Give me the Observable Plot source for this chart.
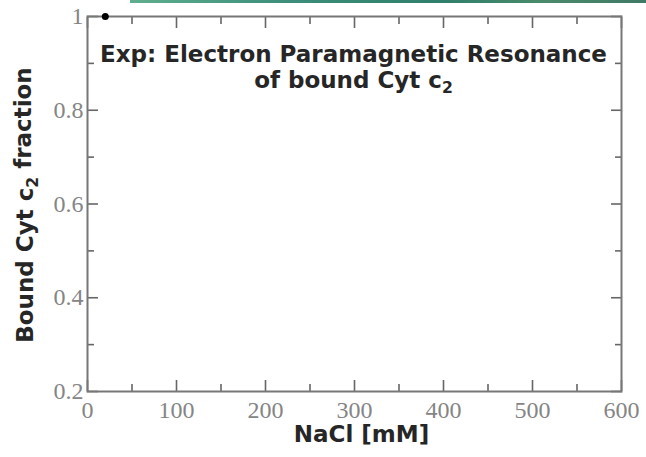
<!DOCTYPE html>
<html>
<head>
<meta charset="utf-8">
<script src="https://cdn.jsdelivr.net/npm/d3@7"></script>
<script src="https://cdn.jsdelivr.net/npm/@observablehq/plot@0.6"></script>
<style>
  html, body { margin: 0; padding: 0; background: #fff; }
  #wrap { position: relative; width: 646px; height: 457px; }
  #stripe { position: absolute; left: 130px; top: 0; width: 516px; height: 3px;
    background: linear-gradient(90deg, #5fae8e, #3c8f7c 30%, #2f7f6c 60%, #4a8a6a 80%, #3f7a66); }
</style>
</head>
<body>
<div id="wrap"></div>
<script>
// data
const naclMM = [20];
const boundFraction = [1];
const xMajorTicks = [0, 100, 200, 300, 400, 500, 600];
const xMinorTicks = [50, 150, 250, 350, 450, 550];
const yMajorTicks = [0.2, 0.4, 0.6, 0.8, 1];
const yMinorTicks = [0.3, 0.5, 0.7, 0.9];
const titleLines = ["Exp: Electron Paramagnetic Resonance", "of bound Cyt c\u2082"];
const xLabel = "NaCl [mM]";
const yLabel = "Bound Cyt c\u2082 fraction";

const points = naclMM.map((x, i) => ({x, y: boundFraction[i]}));
const fmtY = d => String(+d.toFixed(1));

const sans = "DejaVu Sans";
const serif = "Liberation Serif";
const tickColor = "#666";
const labelGray = "#858585";

const tickOpts = {tickFormat: () => "", label: null, stroke: tickColor, strokeWidth: 1.6};

const chart = Plot.plot({
  width: 646,
  height: 457,
  marginLeft: 87,
  marginRight: 25,
  marginTop: 16,
  marginBottom: 66,
  style: {background: "#fff", overflow: "visible"},
  x: {domain: [0, 600]},
  y: {domain: [0.2, 1]},
  marks: [
    // inward ticks, all four sides
    Plot.axisX(xMajorTicks, {anchor: "bottom", tickSize: -11, ...tickOpts}),
    Plot.axisX(xMinorTicks, {anchor: "bottom", tickSize: -7, ...tickOpts}),
    Plot.axisX(xMajorTicks, {anchor: "top", tickSize: -11, ...tickOpts}),
    Plot.axisX(xMinorTicks, {anchor: "top", tickSize: -7, ...tickOpts}),
    Plot.axisY(yMajorTicks, {anchor: "left", tickSize: -11, ...tickOpts}),
    Plot.axisY(yMinorTicks, {anchor: "left", tickSize: -7, ...tickOpts}),
    Plot.axisY(yMajorTicks, {anchor: "right", tickSize: -11, ...tickOpts}),
    Plot.axisY(yMinorTicks, {anchor: "right", tickSize: -7, ...tickOpts}),
    // tick labels
    Plot.axisX(xMajorTicks, {anchor: "bottom", tickSize: 0, tickPadding: 9, label: null,
      fontFamily: serif, fontSize: 24, fill: labelGray, tickFormat: d => String(d)}),
    Plot.axisY(yMajorTicks, {anchor: "left", tickSize: 0, tickPadding: 4, label: null,
      fontFamily: serif, fontSize: 24, fill: labelGray, tickFormat: fmtY}),
    Plot.frame({stroke: "#777", strokeWidth: 2}),
    // data
    Plot.dot(points, {x: "x", y: "y", r: 3.5, fill: "#000", stroke: "none"}),
    // title inside the plot
    Plot.text([titleLines.join("\n")], {frameAnchor: "top", lineAnchor: "top", dy: 27, dx: -1,
      fontFamily: sans, fontWeight: "bold", fontSize: 23, lineHeight: 1.13, fill: "#262626"}),
    // axis labels
    Plot.text([xLabel], {frameAnchor: "bottom", lineAnchor: "middle", dy: 43, dx: 7,
      fontFamily: sans, fontWeight: "bold", fontSize: 23, fill: "#262626"}),
    Plot.text([yLabel], {frameAnchor: "left", textAnchor: "middle", lineAnchor: "middle", rotate: -90, dx: -62, dy: 1,
      fontFamily: sans, fontWeight: "bold", fontSize: 23, fill: "#262626"})
  ]
});

// render the subscript 2 as a real lowered, smaller "2"
d3.select(chart).selectAll("text, tspan").each(function () {
  const node = this;
  if (node.children.length) return;
  const t = node.textContent;
  const i = t.indexOf("\u2082");
  if (i < 0) return;
  const before = t.slice(0, i), after = t.slice(i + 1);
  node.textContent = "";
  const sel = d3.select(node);
  sel.append("tspan").text(before);
  sel.append("tspan").attr("font-size", "0.68em").attr("dy", "0.3em").text("2");
  if (after) sel.append("tspan").attr("dy", "-0.3em").text(after);
});

const wrap = document.getElementById("wrap");
wrap.appendChild(chart);
const stripe = document.createElement("div");
stripe.id = "stripe";
wrap.appendChild(stripe);
</script>
</body>
</html>
